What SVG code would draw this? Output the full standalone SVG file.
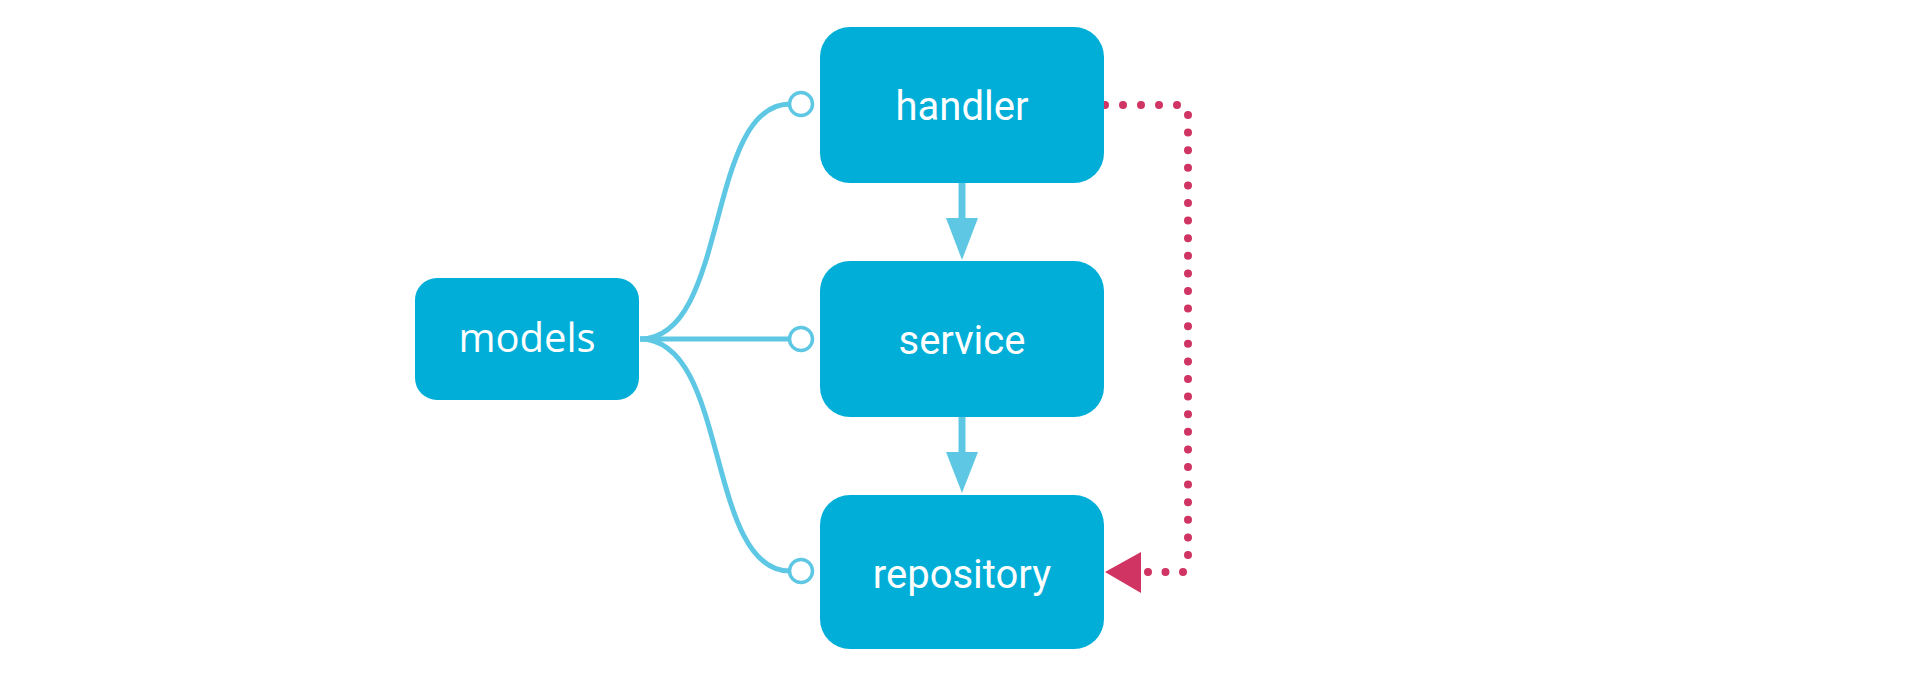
<svg xmlns="http://www.w3.org/2000/svg" width="1920" height="680" viewBox="0 0 1920 680">
<style>
.box{fill:#00aed8}
.lbl{fill:#ffffff;font-family:Roboto,"Liberation Sans",sans-serif;font-size:40px;text-anchor:middle}
.lbl2{fill:#ffffff;font-family:"Open Sans","Liberation Sans",sans-serif;font-size:40px;text-anchor:middle}
.dep{fill:none;stroke:#5ec8e4;stroke-width:5}
.port{fill:#ffffff;stroke:#5ec8e4;stroke-width:3.5}
.flow{fill:none;stroke:#5ec8e4;stroke-width:7}
.dots{fill:none;stroke:#cf3463;stroke-width:8;stroke-linecap:round}
</style>
<rect width="1920" height="680" fill="#ffffff"/>
<g id="connectors">
<path class="dep" d="M640,339 C730,339 705,104 790,104"/>
<path class="dep" d="M640,339 H790"/>
<path class="dep" d="M640,339 C730,339 705,571 790,571"/>
<circle class="port" cx="801" cy="104" r="11.5"/>
<circle class="port" cx="801" cy="339" r="11.5"/>
<circle class="port" cx="801" cy="571" r="11.5"/>
<path class="flow" d="M962,183 V220"/>
<path d="M946,218 L978,218 L962,260 Z" fill="#5ec8e4"/>
<path class="flow" d="M962,417 V454"/>
<path d="M946,452 L978,452 L962,493 Z" fill="#5ec8e4"/>
<path class="dots" stroke-dasharray="0 18" d="M1105,105 H1179"/>
<path class="dots" stroke-dasharray="0 17.6" d="M1188,115 V557"/>
<path class="dots" stroke-dasharray="0 17.5" d="M1183,572 H1146"/>
<path d="M1141,552 L1141,593 L1105,572 Z" fill="#cf3463"/>
</g>
<g id="models">
<rect class="box" x="415" y="278" width="224" height="122" rx="22"/>
<text class="lbl2" x="527" y="352">models</text>
</g>
<g id="handler">
<rect class="box" x="820" y="27" width="284" height="156" rx="30"/>
<text class="lbl" x="962" y="120">handler</text>
</g>
<g id="service">
<rect class="box" x="820" y="261" width="284" height="156" rx="30"/>
<text class="lbl" x="962" y="354">service</text>
</g>
<g id="repository">
<rect class="box" x="820" y="495" width="284" height="154" rx="30"/>
<text class="lbl" x="962" y="588">repository</text>
</g>
</svg>
